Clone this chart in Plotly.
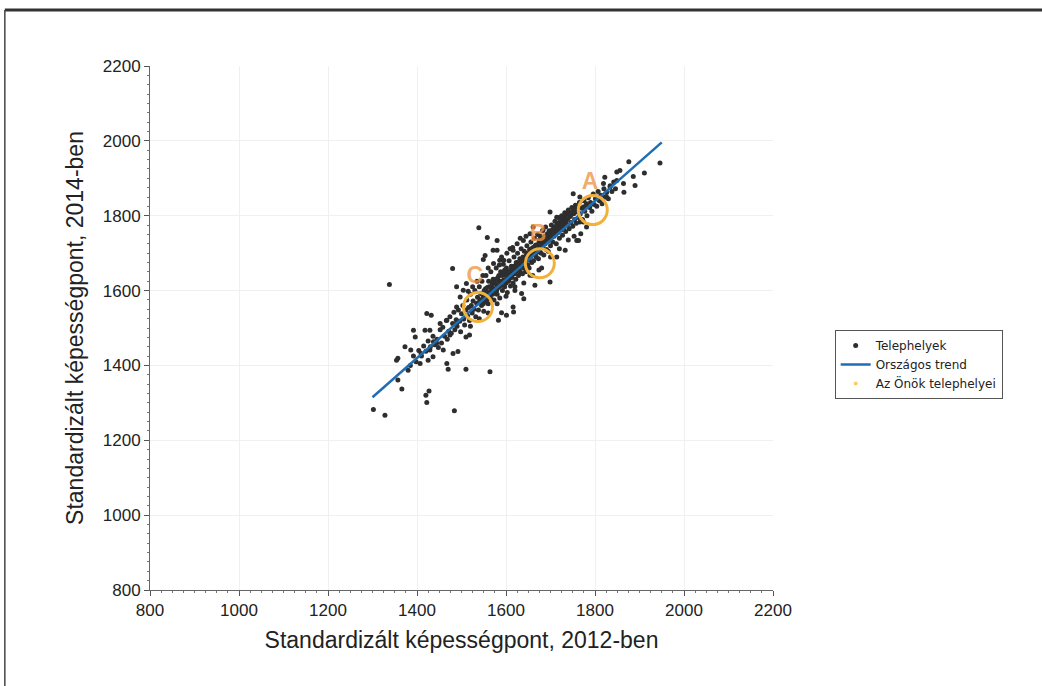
import plotly.graph_objects as go

# ---- Data -------------------------------------------------------------
# Telephelyek: (2012 score, 2014 score) pairs
telephelyek = [
    # sparse outliers
    (1302, 1282), (1328, 1267), (1484, 1279), (1564, 1383), (1510, 1390), (1470, 1390),
    (1422, 1301), (1427, 1332), (1420, 1320), (1366, 1337), (1357, 1361), (1338, 1616),
    (1480, 1659), (1539, 1768), (1558, 1742), (1580, 1734), (1553, 1694), (1549, 1683),
    (1946, 1941), (1876, 1944), (1911, 1914), (1886, 1905), (1865, 1863), (1849, 1917),
    (1822, 1903), (1834, 1877), (1890, 1881), (1751, 1859), (1766, 1850), (1699, 1810),
    (1714, 1796), (1759, 1734), (1753, 1745), (1699, 1623), (1665, 1614), (1635, 1592),
    (1640, 1578), (1616, 1556), (1617, 1543), (1601, 1534), (1583, 1521), (1590, 1541),
    (1510, 1476), (1518, 1481), (1474, 1481), (1481, 1432), (1492, 1437), (1467, 1405),
    (1422, 1539), (1432, 1534), (1418, 1494), (1392, 1494), (1396, 1476), (1373, 1450),
    (1354, 1414), (1357, 1419), (1380, 1387), (1407, 1405), (1409, 1432), (1429, 1441),
    (1437, 1463), (1444, 1459), (1459, 1441), (1425, 1414), (1436, 1423), (1386, 1441),
    (1429, 1494), (1452, 1512), (1489, 1512), (1467, 1521), (1489, 1556), (1497, 1583),
    (1489, 1610), (1511, 1619), (1504, 1601), (1571, 1708), (1580, 1708), (1586, 1681),
    (1595, 1681), (1609, 1712), (1616, 1708), (1639, 1734), (1654, 1752), (1661, 1770),
    (1683, 1761), (1679, 1726), (1729, 1770), (1733, 1788), (1736, 1805), (1774, 1823),
    (1781, 1832), (1804, 1850), (1811, 1841), (1826, 1850), (1864, 1886), (1849, 1894),
    (1819, 1886), (1856, 1921), (1654, 1641), (1674, 1655), (1714, 1690), (1733, 1708),
    (1763, 1734), (1768, 1752), (1781, 1770), (1774, 1783), (1766, 1783),
    # lower band
    (1385, 1400), (1392, 1425), (1398, 1410), (1404, 1440), (1410, 1425), (1415, 1452),
    (1420, 1438), (1425, 1465), (1430, 1450), (1436, 1478), (1440, 1455),
    (1445, 1470), (1448, 1448), (1452, 1495), (1455, 1460), (1458, 1502), (1462, 1478),
    (1466, 1520), (1468, 1470), (1471, 1491), (1474, 1530), (1477, 1486), (1480, 1512),
    (1483, 1542), (1485, 1495), (1488, 1522), (1490, 1505), (1493, 1548), (1496, 1518),
    (1498, 1490), (1500, 1538),
    # dense band
    (1503, 1560), (1505, 1524), (1507, 1508), (1510, 1548), (1512, 1575), (1514, 1532),
    (1516, 1555), (1518, 1520), (1520, 1590), (1522, 1560), (1524, 1540), (1526, 1572),
    (1528, 1550), (1530, 1600), (1532, 1530), (1534, 1566), (1536, 1582), (1538, 1548),
    (1540, 1610), (1541, 1575), (1543, 1592), (1545, 1560), (1546, 1625), (1548, 1580),
    (1550, 1545), (1551, 1600), (1553, 1570), (1555, 1640), (1556, 1588), (1558, 1608),
    (1560, 1565), (1561, 1625), (1563, 1595), (1565, 1580), (1566, 1650), (1568, 1612),
    (1570, 1590), (1571, 1630), (1573, 1575), (1575, 1620), (1576, 1600), (1578, 1660),
    (1579, 1615), (1580, 1590), (1582, 1635), (1583, 1608), (1585, 1625), (1586, 1580),
    (1588, 1650), (1589, 1615), (1591, 1640), (1592, 1600), (1594, 1670), (1595, 1628),
    (1597, 1610), (1598, 1645), (1600, 1620), (1601, 1660), (1603, 1595), (1604, 1638),
    (1606, 1625), (1607, 1680), (1609, 1648), (1610, 1612), (1612, 1665), (1613, 1635),
    (1615, 1655), (1616, 1620), (1618, 1690), (1619, 1645), (1620, 1665), (1622, 1630),
    (1623, 1675), (1625, 1652), (1626, 1700), (1628, 1640), (1629, 1668), (1631, 1685),
    (1632, 1650), (1634, 1712), (1635, 1672), (1637, 1645), (1638, 1690), (1640, 1660),
    (1641, 1705), (1643, 1678), (1644, 1650), (1646, 1695), (1647, 1720), (1649, 1668),
    (1650, 1685), (1652, 1660), (1653, 1710), (1655, 1690), (1656, 1730), (1658, 1675),
    (1659, 1700), (1661, 1715), (1662, 1680), (1664, 1740), (1665, 1698), (1667, 1722),
    (1668, 1690), (1670, 1705), (1671, 1750), (1673, 1685), (1674, 1728), (1676, 1710),
    (1677, 1745), (1679, 1700), (1680, 1730), (1682, 1760), (1683, 1718), (1685, 1695),
    (1686, 1740), (1688, 1725), (1689, 1770), (1691, 1710), (1692, 1748), (1694, 1732),
    (1695, 1705), (1697, 1760), (1698, 1740), (1700, 1720), (1702, 1775), (1703, 1748),
    (1705, 1730), (1707, 1765), (1708, 1745), (1710, 1785), (1712, 1750), (1713, 1725),
    (1715, 1770), (1717, 1755), (1718, 1795), (1720, 1740), (1722, 1778), (1724, 1762),
    (1725, 1800), (1727, 1748), (1729, 1785), (1730, 1768), (1732, 1808), (1734, 1758),
    (1736, 1790), (1738, 1775), (1740, 1815), (1742, 1765), (1744, 1798), (1746, 1782),
    (1748, 1822), (1750, 1772), (1752, 1805), (1754, 1790), (1756, 1828), (1758, 1780),
    (1760, 1810), (1763, 1795), (1765, 1835), (1767, 1805), (1770, 1820), (1772, 1790),
    (1775, 1840), (1777, 1812), (1780, 1828), (1782, 1800), (1785, 1848), (1788, 1822),
    (1790, 1835), (1793, 1812), (1796, 1858), (1798, 1830), (1801, 1845), (1804, 1825),
    (1807, 1865), (1810, 1840), (1813, 1855), (1816, 1832), (1820, 1872), (1823, 1850),
    (1826, 1862), (1830, 1845), (1834, 1880), (1838, 1865), (1842, 1890), (1846, 1872),
    # core of the band (overlapping points)
    (1542, 1570), (1547, 1590), (1549, 1565), (1552, 1585), (1554, 1605), (1557, 1575),
    (1559, 1595), (1562, 1610), (1564, 1588), (1567, 1600), (1569, 1620), (1572, 1605),
    (1574, 1595), (1577, 1630), (1579, 1600), (1581, 1615), (1584, 1640), (1587, 1612),
    (1590, 1625), (1593, 1648), (1596, 1622), (1599, 1640), (1602, 1628), (1605, 1650),
    (1608, 1632), (1611, 1655), (1614, 1642), (1617, 1665), (1621, 1648), (1624, 1660),
    (1627, 1675), (1630, 1658), (1633, 1680), (1636, 1668), (1639, 1688), (1642, 1672),
    (1645, 1690), (1648, 1700), (1651, 1682), (1654, 1698), (1657, 1712), (1660, 1695),
    (1663, 1708), (1666, 1720), (1669, 1702), (1672, 1718), (1675, 1735), (1678, 1720),
    (1681, 1740), (1684, 1728), (1687, 1745), (1690, 1735), (1693, 1752), (1696, 1738),
    (1699, 1755), (1701, 1745), (1704, 1762), (1706, 1750), (1709, 1770), (1711, 1758),
    (1714, 1775), (1716, 1762), (1719, 1782), (1721, 1768), (1723, 1790), (1726, 1775),
    (1728, 1795), (1731, 1780), (1733, 1800), (1735, 1785), (1737, 1805), (1739, 1792),
    (1741, 1808), (1745, 1800), (1749, 1810), (1753, 1815), (1757, 1820), (1761, 1825),
    # scatter above and below the band
    (1560, 1660), (1572, 1672), (1590, 1690), (1602, 1700), (1615, 1715), (1625, 1725),
    (1632, 1740), (1645, 1745), (1597, 1655), (1585, 1668), (1548, 1640), (1535, 1625),
    (1525, 1610), (1515, 1598), (1600, 1585), (1620, 1600), (1640, 1620), (1660, 1640),
    (1680, 1660), (1700, 1690), (1720, 1712), (1740, 1735), (1620, 1610), (1580, 1565),
    (1560, 1540), (1540, 1525), (1520, 1505),
]
site_2012 = [p[0] for p in telephelyek]
site_2014 = [p[1] for p in telephelyek]

# Országos trend (end points)
trend_2012 = [1300, 1950]
trend_2014 = [1315, 1996]

# Az Önök telephelyei
own_labels = ["A", "B", "C"]
own_2012 = [1795, 1676, 1537]
own_2014 = [1815, 1673, 1556]
own_label_2012 = [1789, 1672, 1530]
own_label_2014 = [1886, 1748, 1636]

x_ticks = [800, 1000, 1200, 1400, 1600, 1800, 2000, 2200]
y_ticks = [800, 1000, 1200, 1400, 1600, 1800, 2000, 2200]

FONT = "Liberation Sans, Arial, sans-serif"
LEGEND_FONT = "DejaVu Sans, Verdana, sans-serif"

fig = go.Figure()

fig.add_trace(go.Scatter(
    x=site_2012, y=site_2014, mode="markers", name="Telephelyek",
    marker=dict(size=5, color="#2e2e2e"),
))
fig.add_trace(go.Scatter(
    x=trend_2012, y=trend_2014, mode="lines", name="Országos trend",
    line=dict(color="#1f6db3", width=2.5),
))
fig.add_trace(go.Scatter(
    x=own_2012, y=own_2014, mode="markers", name="Az Önök telephelyei",
    showlegend=False,
    marker=dict(size=29, color="rgba(0,0,0,0)", line=dict(color="#f2b13a", width=3)),
))
# legend entry for own sites (small yellow dot)
fig.add_trace(go.Scatter(
    x=[None], y=[None], mode="markers", name="Az Önök telephelyei",
    marker=dict(size=4, color="#f5d060"),
))
fig.add_trace(go.Scatter(
    x=own_label_2012, y=own_label_2014, mode="text",
    text=["<b>" + t + "</b>" for t in own_labels],
    showlegend=False, hoverinfo="skip",
    textfont=dict(family=FONT, size=23, color="rgba(238,150,70,0.8)"),
))

# outer frame (top and left edges visible)
fig.add_shape(type="line", xref="paper", yref="paper", x0=-0.233, x1=1.6, y0=1.107, y1=1.107,
              line=dict(color="#333333", width=3))
fig.add_shape(type="line", xref="paper", yref="paper", x0=-0.233, x1=-0.233, y0=1.107, y1=-0.3,
              line=dict(color="#444444", width=1.5))

axis_common = dict(
    showline=True, linecolor="#666666", linewidth=1,
    ticks="outside", ticklen=5, tickcolor="#555555",
    showgrid=True, gridcolor="#f0f0f0", gridwidth=1,
    zeroline=False, range=[800, 2200],
    tickfont=dict(family=FONT, size=17, color="#222222"),
    minor=dict(ticks="outside", ticklen=2, tickcolor="#777777", dtick=25, showgrid=False),
)

fig.update_layout(
    width=1042, height=686,
    margin=dict(l=150, r=269, t=66, b=96),
    paper_bgcolor="white", plot_bgcolor="white",
    font=dict(family=FONT, color="#222222"),
    xaxis=dict(**axis_common, tickvals=x_ticks,
               title=dict(text="Standardizált képességpont, 2012-ben",
                          font=dict(family=FONT, size=23, color="#222222"), standoff=12)),
    yaxis=dict(**axis_common, tickvals=y_ticks,
               title=dict(text="Standardizált képességpont, 2014-ben",
                          font=dict(family=FONT, size=23, color="#222222"), standoff=12)),
    legend=dict(x=1.099, y=0.496, xanchor="left", yanchor="top",
                bgcolor="white", bordercolor="#555555", borderwidth=1,
                font=dict(family=LEGEND_FONT, size=12, color="#222222"),
                tracegroupgap=0, itemwidth=30),
    showlegend=True,
)

fig.write_html("out.html", config={"displayModeBar": False},
               post_script="document.body.style.margin='0';")
